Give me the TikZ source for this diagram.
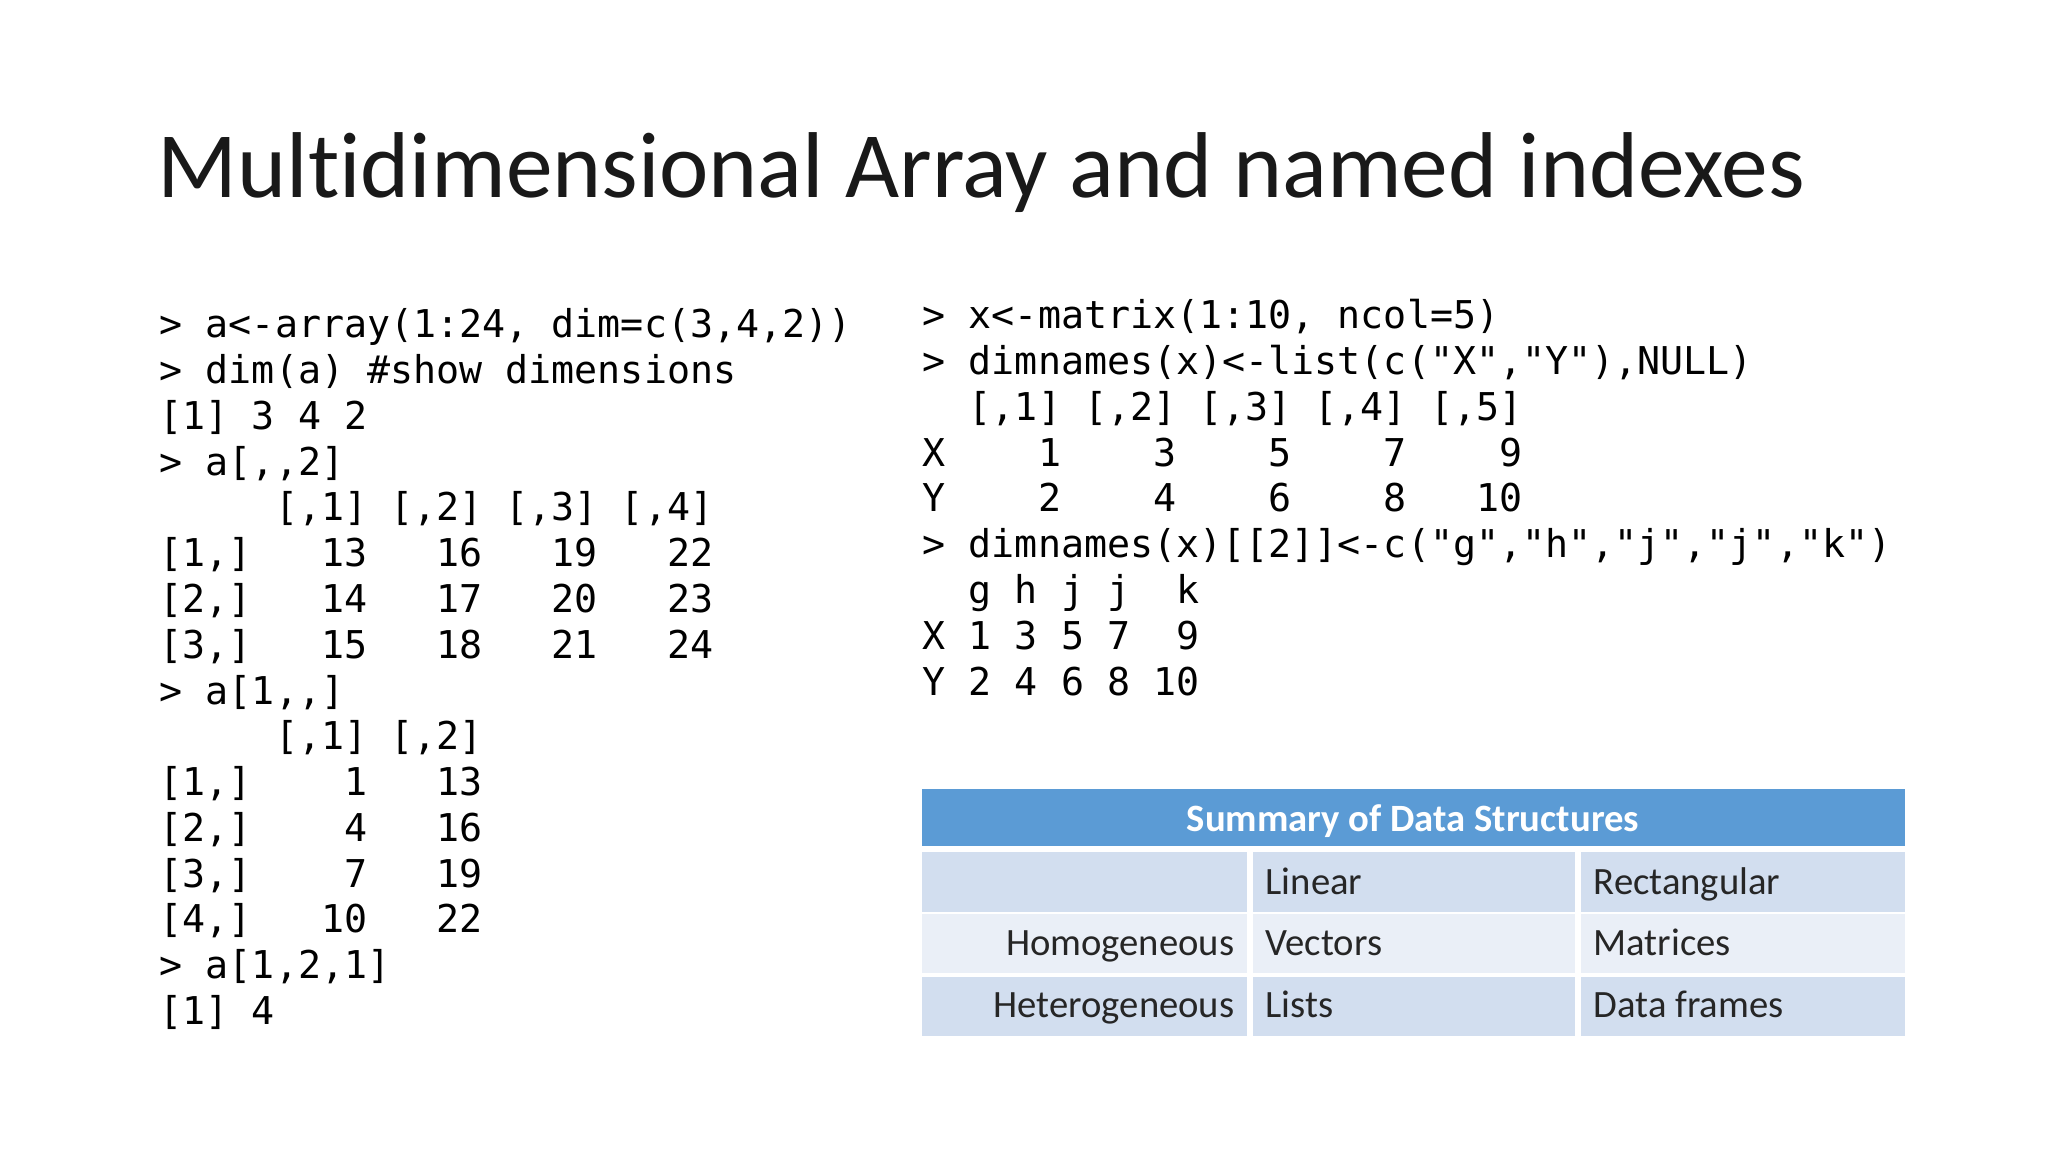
\documentclass[tikz,border=0pt]{standalone}
\usepackage{fontspec}
\setmainfont[Ligatures=NoCommon]{Carlito}
\setmonofont{DejaVu Sans Mono}
\begin{document}
\begin{tikzpicture}[x=1cm,y=1cm,
  code/.style={anchor=base west,inner sep=0pt,font=\ttfamily\fontsize{10.9pt}{13pt}\selectfont},
  cell/.style={anchor=base,inner sep=0pt,font=\fontsize{11pt}{13pt}\selectfont,text=black!85}]
\useasboundingbox[fill=white] (0,0) rectangle (20.48,-11.52);
\node[anchor=base west,inner sep=0pt,font=\fontsize{26.6pt}{30pt}\selectfont,text=black!90] (title) at (1.57,-1.98) {Multidimensional Array and named indexes};
% left code
\foreach \t [count=\i] in {
{>~a<-array(1:24,~dim=c(3,4,2))},
{>~dim(a)~\#show~dimensions},
{[1]~3~4~2},
{>~a[,,2]},
{~~~~~[,1]~[,2]~[,3]~[,4]},
{[1,]~~~13~~~16~~~19~~~22},
{[2,]~~~14~~~17~~~20~~~23},
{[3,]~~~15~~~18~~~21~~~24},
{>~a[1,,]},
{~~~~~[,1]~[,2]},
{[1,]~~~~1~~~13},
{[2,]~~~~4~~~16},
{[3,]~~~~7~~~19},
{[4,]~~~10~~~22},
{>~a[1,2,1]},
{[1]~4}}
  \node[code] (L\i) at (1.59,{-3.38-0.4575*(\i-1)}) {\t};
% right code
\foreach \t [count=\i] in {
{>~x<-matrix(1:10,~ncol=5)},
{>~dimnames(x)<-list(c("X","Y"),NULL)},
{~~[,1]~[,2]~[,3]~[,4]~[,5]},
{X~~~~1~~~~3~~~~5~~~~7~~~~9},
{Y~~~~2~~~~4~~~~6~~~~8~~~10},
{>~dimnames(x)[[2]]<-c("g","h","j","j","k")},
{~~g~h~j~j~~k},
{X~1~3~5~7~~9},
{Y~2~4~6~8~10}}
  \node[code] (R\i) at (9.22,{-3.29-0.4575*(\i-1)}) {\t};
% table
\fill[fill={rgb,255:red,91;green,155;blue,213}] (9.22,-7.89) rectangle (19.05,-8.46);
\node[anchor=base,inner sep=0pt,text=white,font=\bfseries\fontsize{11pt}{13pt}\selectfont] (hdr) at (14.13,-8.31) {Summary of Data Structures};
\fill[fill={rgb,255:red,210;green,222;blue,239}] (9.22,-8.52) rectangle (19.05,-9.12);
\fill[fill={rgb,255:red,234;green,239;blue,247}] (9.22,-9.14) rectangle (19.05,-9.73);
\fill[fill={rgb,255:red,210;green,222;blue,239}] (9.22,-9.77) rectangle (19.05,-10.36);
\draw[white,line width=1.5pt] (12.50,-8.46) -- (12.50,-10.36) (15.78,-8.46) -- (15.78,-10.36);
\node[cell,anchor=base west] (c1) at (12.65,-8.94) {Linear};
\node[cell,anchor=base west] (c2) at (15.93,-8.94) {Rectangular};
\node[cell,anchor=base east] (c3) at (12.35,-9.56) {Homogeneous};
\node[cell,anchor=base west] (c4) at (12.65,-9.56) {Vectors};
\node[cell,anchor=base west] (c5) at (15.93,-9.56) {Matrices};
\node[cell,anchor=base east] (c6) at (12.35,-10.18) {Heterogeneous};
\node[cell,anchor=base west] (c7) at (12.65,-10.18) {Lists};
\node[cell,anchor=base west] (c8) at (15.93,-10.18) {Data frames};
\end{tikzpicture}
\end{document}
